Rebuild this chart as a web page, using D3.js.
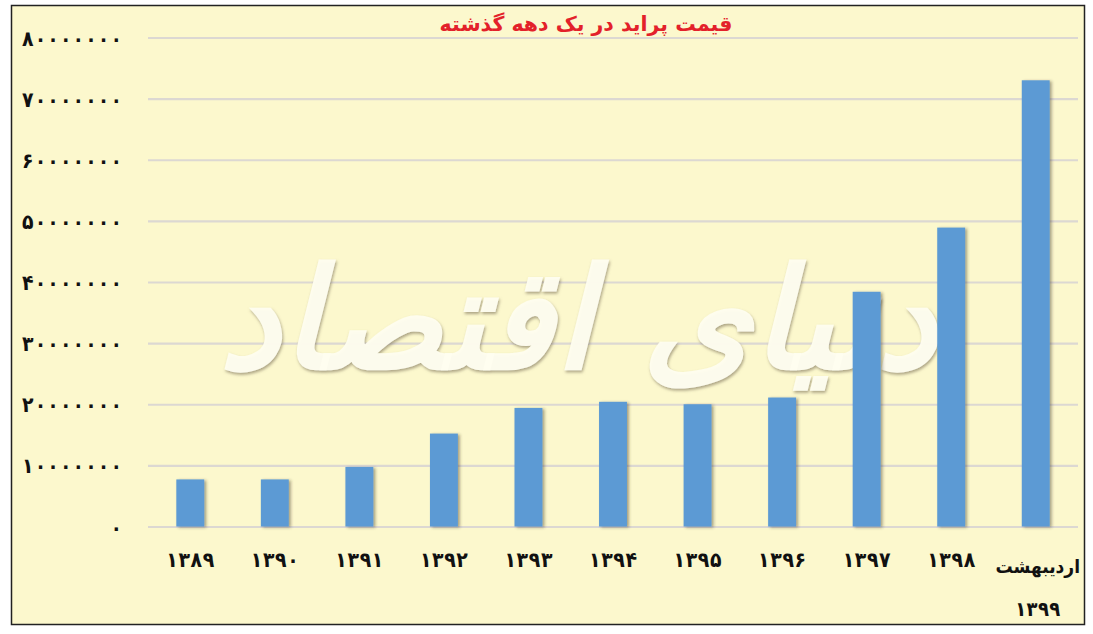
<!DOCTYPE html>
<html><head><meta charset="utf-8">
<script src="https://cdn.jsdelivr.net/npm/d3@7"></script>
<style>
html,body{margin:0;padding:0;background:#fff;}
svg{display:block;}
</style></head>
<body>
<svg id="c" width="1093" height="634"></svg>
<script>
const categories = ["1389","1390","1391","1392","1393","1394","1395","1396","1397","1398","1399"];
const lastLabelLine1 = "اردیبهشت";
const values = [7700000, 7700000, 9750000, 15200000, 19400000, 20400000, 20000000, 21100000, 38400000, 48900000, 73000000];
const yTicks = [0,10000000,20000000,30000000,40000000,50000000,60000000,70000000,80000000];
const title = "قیمت پراید در یک دهه گذشته";
const watermark = "دنیای اقتصاد";

const fa = s => String(s).replace(/[0-9]/g, d => "۰۱۲۳۴۵۶۷۸۹"[+d]);
const FONT = "'DejaVu Sans Condensed', 'DejaVu Sans'";

const svg = d3.select("#c");
const defs = svg.append("defs");
const sh = defs.append("filter").attr("id","bs").attr("x","-20%").attr("y","-5%").attr("width","150%").attr("height","115%");
sh.append("feDropShadow").attr("dx",2).attr("dy",1).attr("stdDeviation",1.5).attr("flood-color","#3a3020").attr("flood-opacity",0.45);
const ws = defs.append("filter").attr("id","ws").attr("x","-10%").attr("y","-10%").attr("width","120%").attr("height","130%");
ws.append("feDropShadow").attr("dx",1).attr("dy",2).attr("stdDeviation",1.8).attr("flood-color","#7a7058").attr("flood-opacity",0.65);

// background & frame
svg.append("rect").attr("x",11.5).attr("y",5.5).attr("width",1073).attr("height",619)
  .attr("fill","#fcf8cd").attr("stroke","#222").attr("stroke-width",1.5);

const x = d3.scaleBand().domain(categories).range([148,1078]).paddingInner(0.67).paddingOuter(0.335);
const y = d3.scaleLinear().domain([0,80000000]).range([526.5,37.5]);

// grid
const grid = svg.append("g").attr("transform","translate(148,0)")
  .call(d3.axisLeft(y).tickValues(yTicks).tickSize(-930).tickFormat(""));
grid.select(".domain").remove();
grid.selectAll(".tick line").attr("stroke","#dcd8d2").attr("stroke-width",2.2);

// y labels
const ya = svg.append("g").attr("transform","translate(122,0)")
  .call(d3.axisLeft(y).tickValues(yTicks).tickSize(0).tickPadding(0).tickFormat(d => fa(d)));
ya.select(".domain").remove();
ya.selectAll("text").attr("font-family",FONT).attr("font-weight","bold")
  .attr("font-size",21).attr("fill","#111").attr("dy","0.36em")
  .each(function(d){ if (d > 0) d3.select(this).attr("textLength",100).attr("lengthAdjust","spacing"); });

// watermark
svg.append("text").attr("x",578).attr("y",368).attr("text-anchor","middle")
  .attr("font-family","DejaVu Sans").attr("font-weight","bold").attr("font-style","italic")
  .attr("font-size",140).attr("fill","#fffef0").attr("fill-opacity",0.95)
  .attr("filter","url(#ws)").attr("direction","rtl").text(watermark);

// bars
svg.append("g").selectAll("rect").data(categories).join("rect")
  .attr("x", d => x(d)).attr("width", x.bandwidth())
  .attr("y", (d,i) => y(values[i])).attr("height", (d,i) => y(0) - y(values[i]))
  .attr("fill","#5b9ad4").attr("filter","url(#bs)");

// x labels
const xa = svg.append("g").attr("transform","translate(0,527)")
  .call(d3.axisBottom(x).tickSize(0).tickPadding(0).tickFormat((d,i) => i === categories.length-1 ? "" : fa(d)));
xa.select(".domain").remove();
xa.selectAll("text").attr("font-family",FONT).attr("font-weight","bold")
  .attr("font-size",21).attr("fill","#111").attr("dy","0").attr("y",40)
  .attr("textLength",48).attr("lengthAdjust","spacing");
const lastX = x(categories[categories.length-1]) + x.bandwidth()/2 + 2;
svg.append("text").attr("x",lastX).attr("y",573).attr("text-anchor","middle")
  .attr("font-family",FONT).attr("font-weight","bold").attr("font-size",19).attr("fill","#111")
  .attr("direction","rtl").text(lastLabelLine1);
svg.append("text").attr("x",lastX).attr("y",616).attr("text-anchor","middle")
  .attr("font-family",FONT).attr("font-weight","bold").attr("font-size",20).attr("fill","#111")
  .attr("textLength",45).attr("lengthAdjust","spacing")
  .text(fa(categories[categories.length-1]));

// title
svg.append("text").attr("x",586).attr("y",31).attr("text-anchor","middle")
  .attr("font-family","DejaVu Sans").attr("font-weight","bold").attr("font-size",20.5).attr("fill","#e3212a")
  .attr("direction","rtl").text(title);
</script>
</body></html>
